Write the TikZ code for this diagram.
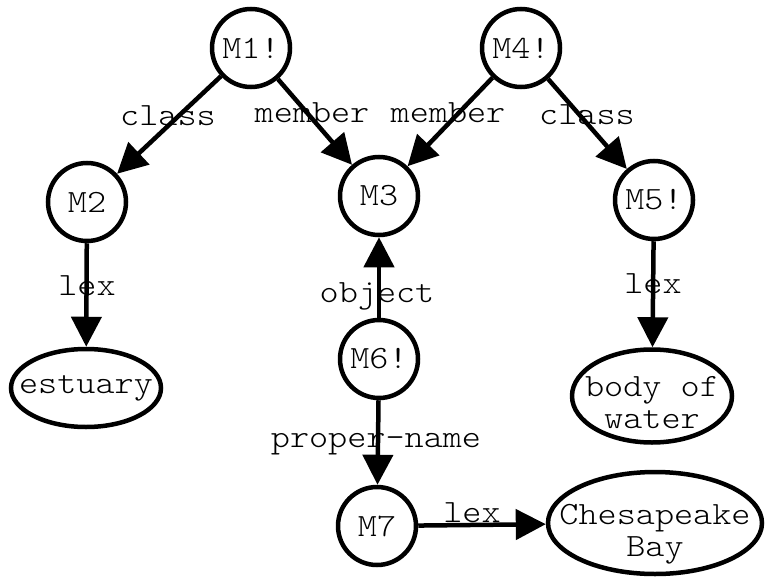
\documentclass[tikz,border=0pt]{standalone}
\usepackage{fontspec}
\setmonofont{Latin Modern Mono Light}[FakeStretch=1.12]
\usetikzlibrary{shapes.geometric,arrows.meta}
\begin{document}
\begin{tikzpicture}[x=1pt,y=-1pt,
  every node/.style={font=\ttfamily\fontsize{32.5}{32}\selectfont},
  mnode/.style={draw,circle,line width=4.5pt,minimum size=78pt,inner sep=0pt},
  wnode/.style={draw,ellipse,line width=4.5pt,inner xsep=-40pt,inner ysep=-20pt,align=center},
  edge/.style={line width=4.5pt,-{Triangle[length=30pt,width=30pt]}},
  lbl/.style={anchor=base,inner sep=0pt}]
\useasboundingbox (0,0) rectangle (765,578);
% molecular nodes
\node[mnode] (m1) at (251,48) {M1!};
\node[mnode] (m4) at (521,48) {M4!};
\node[mnode] (m2) at (87,202) {M2};
\node[mnode] (m3) at (379,196) {M3};
\node[mnode] (m5) at (654,200) {M5!};
\node[mnode] (m6) at (379,359) {M6!};
\node[mnode] (m7) at (377,526) {M7};
% lexical nodes (struts set the two-line texts a little low in their ellipses)
\node[wnode,minimum width=150pt,minimum height=78pt] (est) at (86,388) {estuary};
\node[wnode,minimum width=160pt,minimum height=93pt] (bow) at (652,396) {\rule{0pt}{34pt}body of\\water};
\node[wnode,minimum width=214pt,minimum height=102pt] (cb) at (655,523) {\rule{0pt}{42pt}Chesapeake\\Bay};
% arcs
\draw[edge] (m1) -- (m2);
\draw[edge] (m1) -- (m3);
\draw[edge] (m4) -- (m3);
\draw[edge] (m4) -- (m5);
\draw[edge] (m2) -- (est);
\draw[edge] (m5) -- (bow);
\draw[edge] (m6) -- (m3);
\draw[edge] (m6) -- (m7);
\draw[edge] (m7) -- (cb);
% arc labels
\node[lbl] (l1) at (168,125) {class};
\node[lbl] (l2) at (312,122) {member};
\node[lbl] (l3) at (448,122) {member};
\node[lbl] (l4) at (587,124) {class};
\node[lbl] (l5) at (87,295) {lex};
\node[lbl] (l6) at (377,302) {object};
\node[lbl] (l7) at (653,293) {lex};
\node[lbl] (l8) at (376,447) {proper-name};
\node[lbl] (l9) at (472,522) {lex};
\end{tikzpicture}
\end{document}
